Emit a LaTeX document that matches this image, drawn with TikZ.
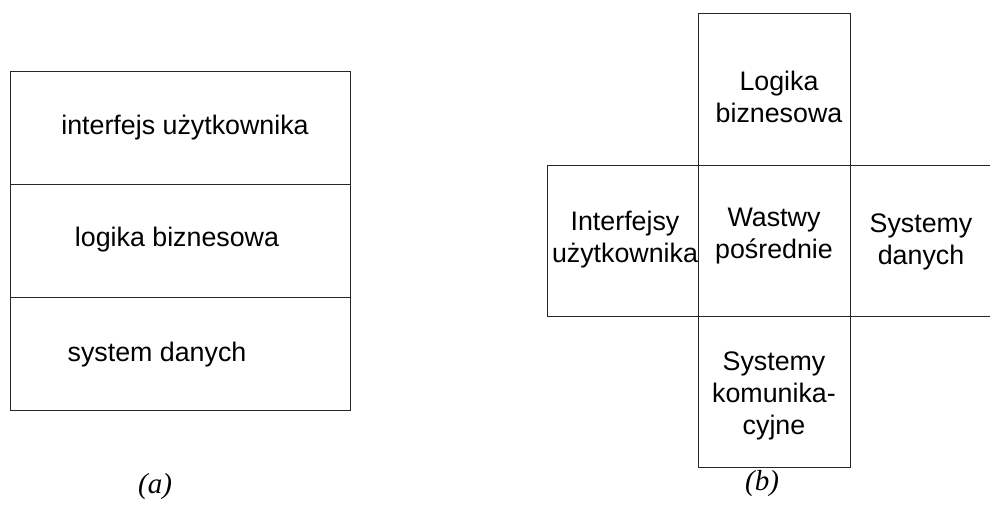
\documentclass[tikz,border=0pt]{standalone}
\usepackage{fontspec}
\setmainfont{Liberation Sans}
\newfontfamily\captionfont{Liberation Serif}
\begin{document}
\begin{tikzpicture}[x=1pt,y=-1pt,
  cell/.style={draw=black!85,line width=0.9pt},
  lbl/.style={inner sep=0pt,align=center,font=\fontsize{26.8}{32}\selectfont},
  figcaption/.style={inner sep=0pt,font=\captionfont\itshape\fontsize{29}{32}\selectfont}]
\useasboundingbox (0,0) rectangle (990,504);
% (a) layered stack
\draw[cell] (10,71) rectangle (350,184);
\draw[cell] (10,184) rectangle (350,297);
\draw[cell] (10,297) rectangle (350,410);
\node[lbl] (ui) at (185,128) {interfejs użytkownika};
\node[lbl] (bl) at (177,240) {logika biznesowa};
\node[lbl] (ds) at (157,355) {system danych};
\node[figcaption] (capa) at (155,487) {(a)};
% (b) cross arrangement
\draw[cell] (698,13) rectangle (850,165);
\draw[cell] (547,165) rectangle (698,316);
\draw[cell] (698,165) rectangle (850,316);
\draw[cell] (850,165) -- (990,165) (850,316) -- (990,316);
\draw[cell] (698,316) rectangle (850,467);
\node[lbl] (logb) at (779,97) {Logika\\biznesowa};
\node[lbl] (intf) at (625,240) {Interfejsy\\użytkownika};
\node[lbl] (mid) at (774,236) {Wastwy\\pośrednie};
\node[lbl] (sysd) at (921,242) {Systemy\\danych};
\node[lbl] (kom) at (774,396) {Systemy\\komunika-\\cyjne};
\node[figcaption] (capb) at (762,484) {(b)};
\end{tikzpicture}
\end{document}
